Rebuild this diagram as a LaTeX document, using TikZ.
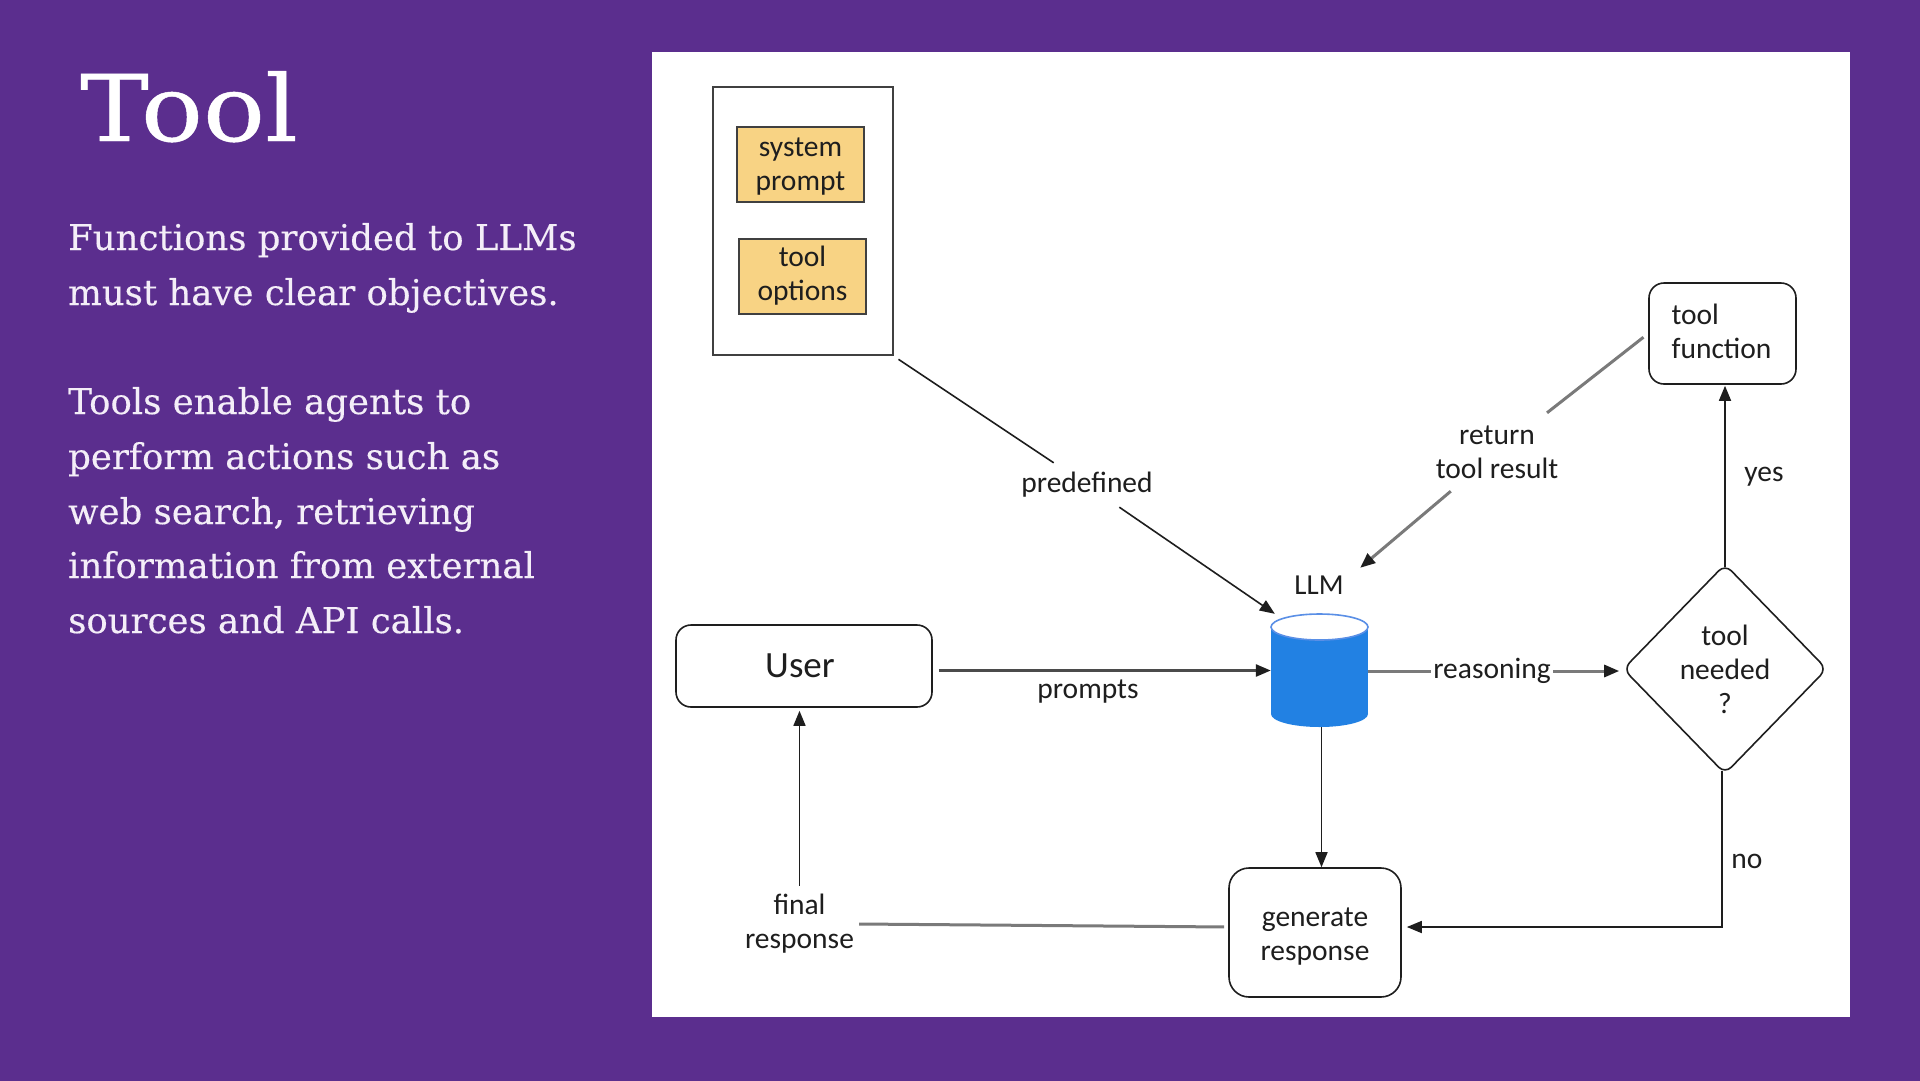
\documentclass[tikz,border=0pt]{standalone}
\usepackage{fontspec}
\usetikzlibrary{arrows.meta,shapes.geometric}
\setmainfont{Carlito}
\newfontfamily\slabfont[FakeBold=0.3]{DejaVu Serif}
\newfontfamily\titlefont[FakeStretch=1.12,FakeBold=0.5]{DejaVu Serif}
\definecolor{bgpurple}{HTML}{5B2E8E}
\definecolor{bodytxt}{HTML}{F4EEF8}
\definecolor{ink}{HTML}{1E1E1E}
\definecolor{softline}{HTML}{7A7A7A}
\definecolor{notefill}{HTML}{F8D384}
\definecolor{cylblue}{HTML}{2281E3}
\definecolor{cyledge}{HTML}{5A8FE6}
\tikzset{
  bodyline/.style={anchor=base west,inner sep=0pt,text=bodytxt,font=\slabfont\fontsize{35.5}{35.5}\selectfont},
  hand/.style={font=\fontsize{29.5}{34}\selectfont,text=ink,align=center,inner sep=0pt},
  flowbox/.style={draw=ink,line width=1.6pt,rounded corners=15pt,fill=white,inner sep=0pt,hand},
  notebox/.style={draw=ink!85,line width=1.8pt,fill=notefill,inner sep=0pt,minimum width=127pt,minimum height=75pt},
  lab/.style={hand,fill=white},
  arrowline/.style={draw=ink,line width=1.6pt,-{Triangle[length=15pt,width=12pt]}},
  softarrow/.style={draw=softline,line width=3pt},
  softtip/.style={draw=softline,line width=3pt,-{Triangle[length=15pt,width=12pt,color=ink]}},
  plainline/.style={draw=ink,line width=1.6pt},
}
\begin{document}
\begin{tikzpicture}[x=1pt,y=-1pt]
\useasboundingbox (0,0) rectangle (1920,1080);
\fill[bgpurple] (-5,-5) rectangle (1925,1085);
\node[name=panel,fill=white,inner sep=0pt,minimum width=1198pt,minimum height=965pt] at (1251,534.5) {};
% left column
\node[name=title,anchor=base west,inner sep=0pt,text=white,font=\titlefont\fontsize{92}{92}\selectfont] at (80,141) {Tool};
\node[bodyline,name=l1] at (68,250) {Functions provided to LLMs};
\node[bodyline,name=l2] at (68,305) {must have clear objectives.};
\node[bodyline,name=l3] at (68,414) {Tools enable agents to};
\node[bodyline,name=l4] at (68,469) {perform actions such as};
\node[bodyline,name=l5] at (68,524) {web search, retrieving};
\node[bodyline,name=l6] at (68,578) {information from external};
\node[bodyline,name=l7] at (68,633) {sources and API calls.};
% nodes
\node[name=outer,draw=ink!85,line width=2pt,fill=white,minimum width=180pt,minimum height=268pt,inner sep=0pt] at (802.5,221) {};
\node[notebox,name=sysprompt,label={[hand,yshift=-2pt]center:{system\\prompt}}] at (800.5,164.5) {};
\node[notebox,name=toolopts,label={[hand,yshift=1pt]center:{tool\\options}}] at (802.5,276.5) {};
\node[flowbox,name=user,minimum width=256pt,minimum height=82pt,label={[hand,font=\fontsize{37}{42}\selectfont,xshift=-4pt]center:User}] at (804,666) {};
\node[flowbox,name=toolfn,minimum width=147pt,minimum height=101pt,label={[hand,align=left,yshift=2pt,xshift=-1pt]center:{tool\\function}}] at (1722.5,333.5) {};
\node[flowbox,name=gen,minimum width=172pt,minimum height=129pt,rounded corners=20pt,label={[hand,yshift=-4pt]center:{generate\\response}}] at (1315,932.5) {};
\node[name=decide,diamond,draw=ink,line width=1.6pt,rounded corners=9pt,fill=white,inner sep=0pt,aspect=1,minimum width=204pt,minimum height=210pt,hand] at (1725,669) {tool\\needed\\?};
\node[name=llm,inner sep=0pt,minimum width=97pt,minimum height=113pt] at (1319.5,670.5) {};
\fill[cylblue] (1319.5,714) ellipse[x radius=48.5pt,y radius=13pt];
\fill[cylblue] (1271,627) rectangle (1368,714);
\draw[cyledge,line width=1.6pt,fill=white] (1319.5,627) ellipse[x radius=48.5pt,y radius=13pt];
\node[hand,name=llmlab,minimum width=82pt,minimum height=34pt,font=\fontsize{29}{32}\selectfont] at (1319,585) {LLM};
% labels on connectors
\node[lab,name=predef,minimum width=134pt,minimum height=44pt] at (1087,485) {predefined};
\node[lab,name=retlab,minimum width=124pt,minimum height=78pt] at (1497,452) {return\\tool result};
\node[lab,name=reason,minimum width=122pt,minimum height=34pt] at (1492,671) {reasoning};
\node[lab,name=finallab,minimum width=119pt,minimum height=76pt] at (799.5,924) {final\\response};
\node[hand,name=promptslab] at (1088,692) {prompts};
\node[hand,name=yeslab] at (1764,477) {yes};
\node[hand,name=nolab] at (1747,861) {no};
% connectors
\draw[plainline,shorten <=6pt] (outer.south east) -- (predef);
\draw[arrowline] (predef) -- ([shift={(4pt,0pt)}]llm.north west);
\draw[softarrow,shorten <=6pt] (toolfn.west) -- (retlab);
\draw[softtip] (retlab) -- (llmlab.north east);
\draw[draw=ink!80,line width=2.6pt,-{Triangle[length=15pt,width=12pt,color=ink]},shorten <=6pt] (user.east |- llm.west) -- (llm.west);
\draw[softarrow] (llm.east |- reason.west) -- (reason.west);
\draw[softtip,shorten >=3pt] (reason.east) -- (reason.east -| decide.west);
\draw[arrowline,shorten >=1pt] ([yshift=-4pt]decide.north) -- (toolfn.south -| decide.north);
\draw[arrowline] ([xshift=2pt]llm.south) -- ([xshift=2pt]gen.north -| llm.south);
\draw[softarrow,shorten <=4pt] ([yshift=5.5pt]gen.west) -- (finallab.east);
\draw[arrowline,shorten >=3pt] (finallab) -- (user.south -| finallab);
\draw[arrowline,shorten >=5pt] ([shift={(-3pt,4pt)}]decide.south) |- ([yshift=5.5pt]gen.east);
\end{tikzpicture}
\end{document}
